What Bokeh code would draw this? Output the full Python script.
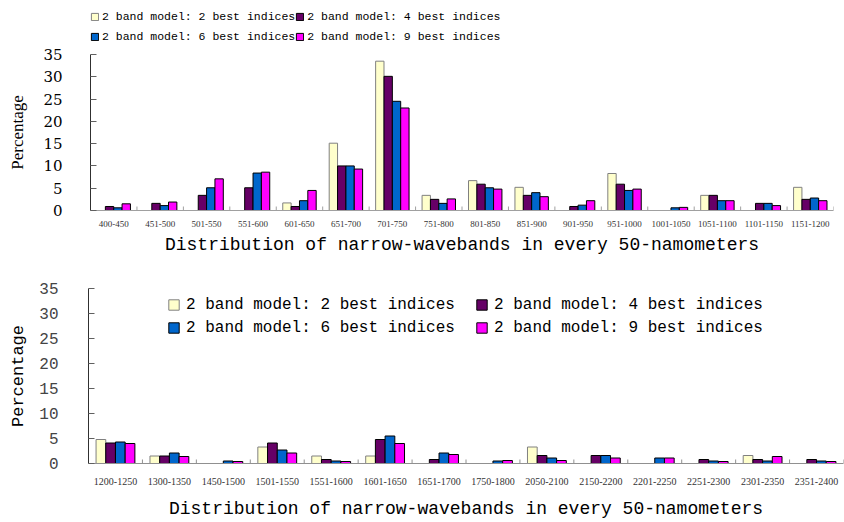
import math
from bokeh.plotting import figure
from bokeh.models import ColumnDataSource, FactorRange, Range1d, FixedTicker, Legend, LegendItem
from bokeh.layouts import column
from bokeh.transform import dodge
from bokeh.embed import file_html
from bokeh.resources import INLINE

# ---------------- data ----------------
series_names = ["2 band model: 2 best indices", "2 band model: 4 best indices",
                "2 band model: 6 best indices", "2 band model: 9 best indices"]
series_keys = ["b2", "b4", "b6", "b9"]
fill_colors = ["#FFFFCC", "#660066", "#0066CC", "#FF00FF"]
line_colors = ["#808080", "#000000", "#000000", "#000000"]

top_cats = ["400-450", "451-500", "501-550", "551-600", "601-650", "651-700", "701-750",
            "751-800", "801-850", "851-900", "901-950", "951-1000", "1001-1050",
            "1051-1100", "1101-1150", "1151-1200"]
top_b2 = [0, 0, 0, 0, 1.7, 15.1, 33.5, 3.4, 6.7, 5.2, 0, 8.3, 0, 3.4, 0, 5.2]
top_b4 = [0.9, 1.6, 3.4, 5.1, 0.9, 10.0, 30.1, 2.5, 5.9, 3.4, 0.9, 5.9, 0, 3.4, 1.6, 2.5]
top_b6 = [0.6, 1.1, 5.1, 8.4, 2.2, 10.0, 24.5, 1.6, 5.1, 4.0, 1.2, 4.5, 0.6, 2.2, 1.6, 2.8]
top_b9 = [1.5, 1.9, 7.1, 8.6, 4.5, 9.3, 23.0, 2.6, 4.8, 3.1, 2.2, 4.8, 0.7, 2.2, 1.1, 2.2]

bot_cats = ["1200-1250", "1300-1350", "1450-1500", "1501-1550", "1551-1600", "1601-1650",
            "1651-1700", "1750-1800", "2050-2100", "2150-2200", "2201-2250", "2251-2300",
            "2301-2350", "2351-2400"]
bot_b2 = [4.8, 1.5, 0, 3.3, 1.5, 1.5, 0, 0, 3.3, 0, 0, 0, 1.6, 0]
bot_b4 = [4.1, 1.5, 0, 4.1, 0.8, 4.8, 0.8, 0, 1.6, 1.6, 0, 0.8, 0.8, 0.8]
bot_b6 = [4.3, 2.1, 0.5, 2.7, 0.5, 5.5, 2.1, 0.5, 1.1, 1.6, 1.1, 0.5, 0.5, 0.5]
bot_b9 = [4.0, 1.4, 0.4, 2.1, 0.4, 4.0, 1.8, 0.6, 0.6, 1.1, 1.1, 0.4, 1.4, 0.4]

y_ticks = [0, 5, 10, 15, 20, 25, 30, 35]
x_title = "Distribution of narrow-wavebands in every 50-namometers"
y_title = "Percentage"

offsets = [-0.27, -0.09, 0.09, 0.27]
bar_w = 0.18


def nz(vals):
    return [v if v != 0 else float("nan") for v in vals]


def make_legend(renderers, cfg):
    items = [LegendItem(label=nm, renderers=[r]) for nm, r in zip(series_names, renderers)]
    return Legend(items=items, location=cfg["loc"], orientation="horizontal", ncols=2,
                  padding=0, margin=0, spacing=0,
                  border_line_alpha=0, background_fill_alpha=0,
                  glyph_width=cfg["glyph"], glyph_height=cfg["glyph"],
                  label_standoff=cfg["standoff"], label_height=cfg["row"],
                  label_width=cfg["label_w"],
                  label_text_font="Liberation Mono", label_text_font_size=cfg["size"],
                  label_text_color="#000000", label_text_baseline="middle")


def make_chart(cats, values, width, height, borders, fonts, legend_cfg, xline_color):
    bl, br, bt, bb = borders
    p = figure(x_range=FactorRange(*cats, range_padding=0), y_range=Range1d(0, 35),
               width=width, height=height, output_backend="svg", toolbar_location=None,
               min_border_left=bl, min_border_right=br, min_border_top=bt, min_border_bottom=bb)
    p.outline_line_color = None
    p.xgrid.grid_line_color = None
    p.ygrid.grid_line_color = None
    p.background_fill_color = "white"
    p.border_fill_color = "white"

    data = {"cat": cats}
    for k, v in zip(series_keys, values):
        data[k] = nz(v)
    src = ColumnDataSource(data)
    renderers = []
    for k, off, fc, lc in zip(series_keys, offsets, fill_colors, line_colors):
        r = p.vbar(x=dodge("cat", off, range=p.x_range), top=k, width=bar_w, source=src,
                   fill_color=fc, line_color=lc, line_width=1)
        renderers.append(r)

    # category separator ticks (at category boundaries)
    n = len(cats)
    p.ray(x=list(range(1, n + 1)), y=[0] * n, length=4, angle=math.pi / 2,
          length_units="screen", line_color=xline_color, line_width=1)

    xa = p.xaxis[0]
    xa.axis_line_color = xline_color
    xa.major_tick_line_color = None
    xa.major_tick_out = 0
    xa.major_tick_in = 0
    xa.minor_tick_line_color = None
    xa.major_label_text_font = fonts["xtick_font"]
    xa.major_label_text_font_size = fonts["xtick_size"]
    xa.major_label_text_color = "#333333"
    xa.major_label_standoff = fonts["xtick_standoff"]
    xa.axis_label = x_title
    xa.axis_label_text_font = fonts["xtitle_font"]
    xa.axis_label_text_font_size = fonts["xtitle_size"]
    xa.axis_label_text_font_style = "normal"
    xa.axis_label_text_color = "#000000"
    xa.axis_label_standoff = fonts["xtitle_standoff"]

    ya = p.yaxis[0]
    ya.ticker = FixedTicker(ticks=y_ticks)
    ya.axis_line_color = "#303030"
    ya.major_tick_line_color = "#606060"
    ya.major_tick_in = 6
    ya.major_tick_out = 0
    ya.minor_tick_line_color = None
    ya.major_label_text_font = fonts["ytick_font"]
    ya.major_label_text_font_size = fonts["ytick_size"]
    ya.major_label_text_color = fonts["ytick_color"]
    ya.major_label_standoff = fonts["ytick_standoff"]
    ya.axis_label = y_title
    ya.axis_label_text_font = fonts["ytitle_font"]
    ya.axis_label_text_font_size = fonts["ytitle_size"]
    ya.axis_label_text_font_style = "normal"
    ya.axis_label_text_color = "#000000"
    ya.axis_label_standoff = fonts["ytitle_standoff"]

    if legend_cfg is not None:
        p.add_layout(make_legend(renderers, legend_cfg))
    return p


# legend strip above the top chart (holds the top chart's legend keys)
pl = figure(width=844, height=46, x_range=Range1d(0, 1), y_range=Range1d(0, 1),
            x_axis_type=None, y_axis_type=None, output_backend="svg", toolbar_location=None,
            min_border_left=90, min_border_right=11, min_border_top=0, min_border_bottom=0)
pl.outline_line_color = None
pl.xgrid.grid_line_color = None
pl.ygrid.grid_line_color = None
# one zero-size key sample per series (draws nothing; only the legend keys show)
key_src = ColumnDataSource(dict(x=[0.5], top=[0.0]))
key_renderers = [pl.vbar(x="x", top="top", width=0, source=key_src, fill_color=fc,
                         line_color=lc, line_width=1)
                 for fc, lc in zip(fill_colors, line_colors)]
pl.add_layout(make_legend(key_renderers, dict(loc=(0, 0), glyph=9, standoff=3, row=20,
                                              label_w=192, size="11.5px")))

top_fonts = dict(xtick_font="Liberation Serif", xtick_size="9px", xtick_standoff=10,
                 xtitle_font="Liberation Mono", xtitle_size="18px", xtitle_standoff=5,
                 ytick_font="DejaVu Serif", ytick_size="15px", ytick_color="#000000",
                 ytick_standoff=28, ytitle_font="Liberation Serif", ytitle_size="17px",
                 ytitle_standoff=13)
bot_fonts = dict(xtick_font="Liberation Serif", xtick_size="10px", xtick_standoff=14,
                 xtitle_font="Liberation Mono", xtitle_size="18px", xtitle_standoff=11,
                 ytick_font="Liberation Mono", ytick_size="16px", ytick_color="#444444",
                 ytick_standoff=30, ytitle_font="Liberation Mono", ytitle_size="17px",
                 ytitle_standoff=8)

p1 = make_chart(top_cats, [top_b2, top_b4, top_b6, top_b9], 844, 216, (90, 11, 8, 52),
                top_fonts, None, "#A0A0A0")
p2 = make_chart(bot_cats, [bot_b2, bot_b4, bot_b6, bot_b9], 844, 260, (88, 1, 26, 59),
                bot_fonts, dict(loc=(79, 124), glyph=13, standoff=6, row=23,
                                label_w=289, size="16px"), "#909090")

layout = column(column(pl, p1, spacing=0), p2, spacing=0)
open("out.html", "w").write(file_html(layout, INLINE))
